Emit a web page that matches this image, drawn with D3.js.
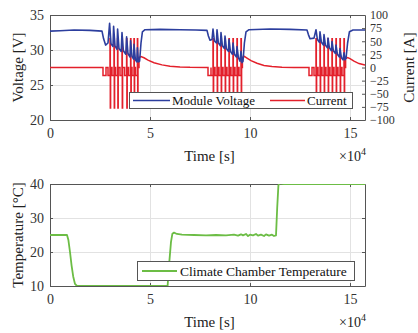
<!DOCTYPE html>
<html>
  <head>
    <meta charset='utf-8' />
    <title>Module voltage, current and chamber temperature</title>
    <script src="https://d3js.org/d3.v7.min.js"></script>
    <style>
body {
  margin: 0;
  background: #fff;
  font-family: "Liberation Serif", "DejaVu Serif", serif;
}
.axis path, .axis line { stroke: #555; }
.axis text { fill: #333; font-size: 14px; font-family: "Liberation Serif", serif; }
.axis.small text { font-size: 12px; }
.grid line { stroke: #e2e2e2; }
.grid path { display: none; }
.label { fill: #222; font-size: 15px; }
    </style>
  </head>
  <body>
    <div id="graphic"></div>
    <script>
      // time in units of 1e4 s
      const xTicks = [0, 5, 10, 15];
      const voltTicks = [20, 25, 30, 35];
      const currTicks = [-100, -75, -50, -25, 0, 25, 50, 75, 100];
      const tempTicks = [10, 20, 30, 40];

      // Module voltage [V]
      const voltage = [
        [0,32.7],[0.5,32.75],[1.2,32.85],[2.0,32.8],[2.6,32.7],
        [2.68,31.6],[2.78,30.7],[2.9,31.0],
        [2.98,33.8],[3.05,30.9],[3.15,30.5],
        [3.18,33.4],[3.25,30.6],[3.35,30.1],
        [3.38,33.0],[3.45,30.2],[3.56,29.8],
        [3.6,32.5],[3.67,29.9],[3.79,29.4],
        [3.83,31.9],[3.9,29.5],[4.0,29.0],
        [4.03,31.3],[4.1,29.1],[4.18,28.7],
        [4.2,30.8],[4.27,28.6],[4.34,28.3],
        [4.37,30.3],[4.42,28.3],[4.48,28.4],
        [4.55,31.0],[4.62,32.6],[4.75,32.9],[5.5,32.95],[6.5,32.9],[7.3,32.85],[7.85,32.8],
        [7.92,32.0],[8.0,31.4],[8.1,31.5],
        [8.15,33.0],[8.22,31.3],[8.32,31.0],
        [8.35,32.9],[8.42,31.0],[8.52,30.6],
        [8.55,32.5],[8.62,30.6],[8.72,30.2],
        [8.75,32.0],[8.82,30.2],[8.92,29.8],
        [8.95,31.5],[9.02,29.8],[9.12,29.4],
        [9.15,31.0],[9.22,29.4],[9.32,29.0],
        [9.35,30.5],[9.42,28.9],[9.5,28.4],
        [9.55,29.8],[9.6,28.2],[9.65,28.4],
        [9.72,31.0],[9.8,32.6],[9.95,32.9],[11,33.0],[12,32.95],[12.85,32.85],
        [12.92,32.2],[13.0,31.6],[13.2,31.7],
        [13.3,32.9],[13.37,31.5],[13.47,31.1],
        [13.5,32.6],[13.57,31.1],[13.67,30.7],
        [13.7,32.2],[13.77,30.7],[13.87,30.3],
        [13.9,31.7],[13.97,30.3],[14.07,29.9],
        [14.1,31.2],[14.17,29.9],[14.27,29.5],
        [14.3,30.7],[14.37,29.4],[14.47,29.0],
        [14.5,30.2],[14.57,28.9],[14.65,28.6],
        [14.7,29.6],[14.75,28.6],[14.8,28.8],
        [14.88,31.0],[14.97,32.6],[15.15,32.85],[15.75,32.85]
      ];

      // Current [A]: pulse trains
      const cycleStart = [2.65, 7.9, 12.95];
      const spikeTimes = [
        [3.0, 3.2, 3.38, 3.6, 3.83, 4.03, 4.2, 4.37],
        [8.15, 8.35, 8.55, 8.75, 8.95, 9.15, 9.35, 9.55],
        [13.3, 13.5, 13.7, 13.9, 14.1, 14.3, 14.5, 14.7]
      ];
      const pulseLevels = [-15, 55, -77]; // rest dip, charge peak, discharge peak
      const chargeCurrent = [
        [[4.45,0],[4.45,19],[4.55,21],[4.7,18.5],[4.9,14],[5.2,9],[5.6,5],[6.0,2.5],[6.5,1],[7.0,0.3],[7.9,0]],
        [[9.62,0],[9.62,19],[9.72,21],[9.85,18],[10.05,13],[10.35,8],[10.7,4],[11.1,1.8],[11.6,0.6],[12.2,0.2],[12.95,0]],
        [[14.78,0],[14.78,17],[14.88,19],[15.0,17],[15.2,12],[15.45,7.5],[15.75,4.5]]
      ];

      // Climate chamber temperature [°C]
      const temperature = [
        [0,25],[0.85,25],[0.92,23.5],[1.0,20],[1.08,16],[1.16,12.8],[1.25,10.6],[1.35,10],
        [3,10],[5,10.05],[5.88,10],[5.95,16],[6.05,23],[6.12,25.4],[6.2,25.7],[6.35,25.3],
        [6.6,25.1],[7.2,25.0],[7.8,24.9],[8.3,25.0],[8.8,24.9],[9.2,25.1],[9.4,24.8],
        [9.55,25.2],[9.65,24.9],[9.8,25.3],[9.9,24.7],[10.0,25.1],[10.15,24.9],[10.3,25.3],
        [10.4,24.8],[10.55,25.1],[10.7,24.7],[10.8,25.2],[10.95,24.8],[11.1,25.1],[11.2,24.7],[11.3,24.9],
        [11.36,33],[11.42,39.6],[11.48,40.2],[11.7,40],[13,40],[15.75,40]
      ];

      const current = [[0, 0]];
      cycleStart.forEach((s, i) => {
        current.push([s, 0], [s, pulseLevels[0]], [s + 0.15, pulseLevels[0]], [s + 0.15, 0]);
        spikeTimes[i].forEach((t) => {
          current.push([t - 0.1, 0], [t - 0.1, pulseLevels[0]], [t, pulseLevels[0]],
                       [t, pulseLevels[1]], [t + 0.015, pulseLevels[1]],
                       [t + 0.015, pulseLevels[2]], [t + 0.03, pulseLevels[2]], [t + 0.03, 0]);
        });
        chargeCurrent[i].forEach((p) => current.push(p));
      });

      const W = 418, H = 333;
      const left = 50, right = 365;
      const top1 = 15, bot1 = 120;
      const top2 = 184, bot2 = 286;

      const svg = d3.select("#graphic").append("svg")
        .attr("width", W)
        .attr("height", H);

      const x = d3.scaleLinear().domain([0, 15.75]).range([left, right]);
      const yV = d3.scaleLinear().domain([20, 35]).range([bot1, top1]);
      const yI = d3.scaleLinear().domain([-100, 100]).range([bot1, top1]);
      const yT = d3.scaleLinear().domain([10, 40]).range([bot2, top2]);

      const blue = "#2c3e9e", red = "#e3202b", green = "#6cbd45";

      function panel(yScale, yTicks, top, bot, id) {
        // grid
        svg.append("g").attr("class", "grid")
          .attr("transform", "translate(0," + bot + ")")
          .call(d3.axisBottom(x).tickValues(xTicks).tickSize(-(bot - top)).tickFormat(""));
        svg.append("g").attr("class", "grid")
          .attr("transform", "translate(" + left + ",0)")
          .call(d3.axisLeft(yScale).tickValues(yTicks).tickSize(-(right - left)).tickFormat(""));

        svg.append("clipPath").attr("id", id)
          .append("rect")
          .attr("x", left).attr("y", top)
          .attr("width", right - left).attr("height", bot - top);

        // axes, ticks inside like matlab
        svg.append("g").attr("class", "axis")
          .attr("transform", "translate(0," + bot + ")")
          .call(d3.axisBottom(x).tickValues(xTicks).tickSize(-3).tickPadding(8).tickSizeOuter(0));
        svg.append("g").attr("class", "axis")
          .attr("transform", "translate(0," + top + ")")
          .call(d3.axisTop(x).tickValues(xTicks).tickSize(-3).tickFormat("").tickSizeOuter(0));
        svg.append("g").attr("class", "axis")
          .attr("transform", "translate(" + left + ",0)")
          .call(d3.axisLeft(yScale).tickValues(yTicks).tickSize(-3).tickPadding(6).tickSizeOuter(0));
      }

      panel(yV, voltTicks, top1, bot1, "clip1");
      panel(yT, tempTicks, top2, bot2, "clip2");

      // right current axis on top panel
      svg.append("g").attr("class", "axis small")
        .attr("transform", "translate(" + right + ",0)")
        .call(d3.axisRight(yI).tickValues(currTicks).tickSize(-3).tickPadding(5).tickSizeOuter(0));
      // right border of bottom panel
      svg.append("g").attr("class", "axis")
        .attr("transform", "translate(" + right + ",0)")
        .call(d3.axisRight(yT).tickValues(tempTicks).tickSize(-3).tickFormat("").tickSizeOuter(0));

      const lineV = d3.line().x((d) => x(d[0])).y((d) => yV(d[1]));
      const lineI = d3.line().x((d) => x(d[0])).y((d) => yI(d[1]));
      const lineT = d3.line().x((d) => x(d[0])).y((d) => yT(d[1]));

      const body1 = svg.append("g").attr("clip-path", "url(#clip1)");
      body1.append("path").datum(current)
        .attr("d", lineI).attr("fill", "none")
        .attr("stroke", red).attr("stroke-width", 1.5);
      body1.append("path").datum(voltage)
        .attr("d", lineV).attr("fill", "none")
        .attr("stroke", blue).attr("stroke-width", 1.6).attr("stroke-linejoin", "round");

      const body2 = svg.append("g").attr("clip-path", "url(#clip2)");
      body2.append("path").datum(temperature)
        .attr("d", lineT).attr("fill", "none")
        .attr("stroke", green).attr("stroke-width", 1.8).attr("stroke-linejoin", "round");

      // legends
      const leg1 = svg.append("g");
      leg1.append("rect").attr("x", 129.5).attr("y", 92.5).attr("width", 223).attr("height", 16)
        .attr("fill", "#fff").attr("stroke", "#555");
      leg1.append("line").attr("x1", 133).attr("x2", 170).attr("y1", 100.5).attr("y2", 100.5)
        .attr("stroke", blue).attr("stroke-width", 1.6);
      leg1.append("text").attr("x", 172).attr("y", 105).attr("font-size", "13px").attr("fill", "#111")
        .text("Module Voltage");
      leg1.append("line").attr("x1", 270).attr("x2", 305).attr("y1", 100.5).attr("y2", 100.5)
        .attr("stroke", red).attr("stroke-width", 1.6);
      leg1.append("text").attr("x", 307).attr("y", 105).attr("font-size", "13px").attr("fill", "#111")
        .text("Current");

      const leg2 = svg.append("g");
      leg2.append("rect").attr("x", 137.5).attr("y", 261.5).attr("width", 217).attr("height", 19)
        .attr("fill", "#fff").attr("stroke", "#555");
      leg2.append("line").attr("x1", 142).attr("x2", 177).attr("y1", 271).attr("y2", 271)
        .attr("stroke", green).attr("stroke-width", 1.8);
      leg2.append("text").attr("x", 180).attr("y", 275.5).attr("font-size", "13.5px").attr("fill", "#111")
        .text("Climate Chamber Temperature");

      // axis labels
      svg.append("text").attr("class", "label")
        .attr("transform", "translate(23," + (top1 + bot1) / 2 + ") rotate(-90)")
        .attr("text-anchor", "middle").text("Voltage [V]");
      svg.append("text").attr("class", "label")
        .attr("transform", "translate(414," + (top1 + bot1) / 2 + ") rotate(-90)")
        .attr("text-anchor", "middle").text("Current [A]");
      svg.append("text").attr("class", "label")
        .attr("transform", "translate(23," + (top2 + bot2) / 2 + ") rotate(-90)")
        .attr("text-anchor", "middle").text("Temperature [°C]");

      [bot1, bot2].forEach((b) => {
        svg.append("text").attr("class", "label")
          .attr("x", (left + right) / 2 + 2).attr("y", b + 41)
          .attr("text-anchor", "middle").text("Time [s]");
        const mult = svg.append("text").attr("class", "label")
          .attr("x", 366).attr("y", b + 41).attr("text-anchor", "end").style("font-size", "14px");
        mult.append("tspan").text("×10");
        mult.append("tspan").attr("dy", -6).style("font-size", "10px").text("4");
      });
    </script>
  </body>
</html>
